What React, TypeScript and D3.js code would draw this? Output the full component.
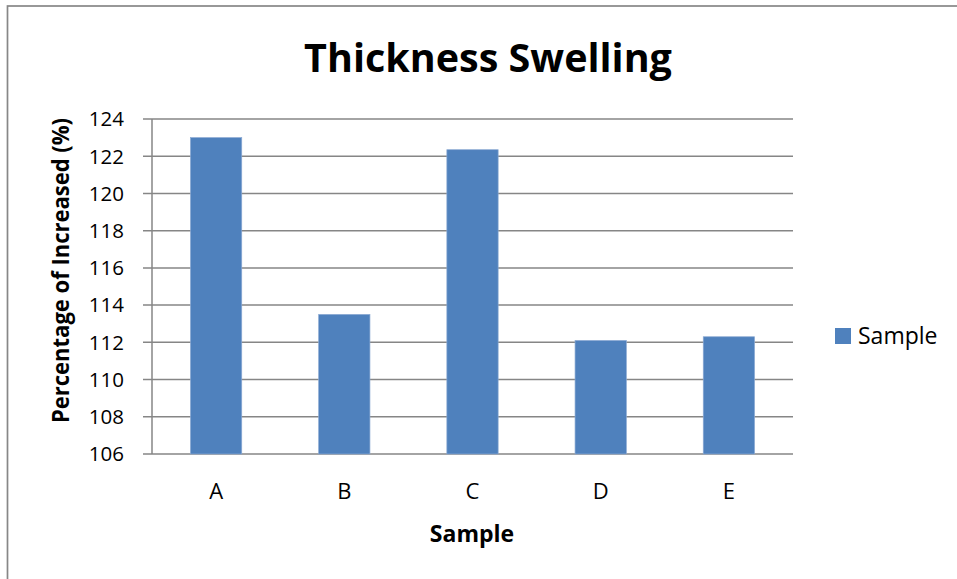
import React from "react";
import * as d3 from "d3";

const categories = ["A", "B", "C", "D", "E"];
const values = [123.0, 113.5, 122.35, 112.1, 112.3];
const yTicks = [106, 108, 110, 112, 114, 116, 118, 120, 122, 124];
const seriesName = "Sample";
const title = "Thickness Swelling";
const xTitle = "Sample";
const yTitle = "Percentage of Increased (%)";

const W = 957;
const H = 579;
const plot = { left: 152, right: 793, top: 119, bottom: 454 };
const FONT = "'Open Sans', 'DejaVu Sans', sans-serif";
const BAR = "#4F81BD";
const GRID = "#868686";

export default function App() {
  const x = d3
    .scaleBand<string>()
    .domain(categories)
    .range([plot.left, plot.right])
    .paddingInner(0.6)
    .paddingOuter(0.3);
  const y = d3.scaleLinear().domain([106, 124]).range([plot.bottom, plot.top]);

  return (
    <svg
      width={W}
      height={H}
      style={{ position: "absolute", left: 0, top: 0, background: "#fff" }}
      fontFamily={FONT}
    >
      <rect x={0} y={0} width={W} height={H} fill="#fff" />
      <rect x={7.5} y={6} width={W + 20} height={H + 20} fill="none" stroke="#878787" strokeWidth={1.7} />
      <text x={488} y={72} textAnchor="middle" fontSize={39.5} fontWeight="bold" fill="#000">
        {title}
      </text>
      {yTicks.map((t) => (
        <g key={t}>
          <line x1={143} x2={plot.right} y1={y(t)} y2={y(t)} stroke={GRID} strokeWidth={1.5} />
          <text x={124} y={y(t)} dy="0.36em" textAnchor="end" fontSize={20.5} fill="#000">
            {t}
          </text>
        </g>
      ))}
      <line x1={plot.left} x2={plot.left} y1={plot.top} y2={plot.bottom} stroke={GRID} strokeWidth={1.5} />
      {categories.map((c, i) => (
        <g key={c}>
          <rect
            x={x(c)}
            y={y(values[i])}
            width={x.bandwidth()}
            height={plot.bottom - y(values[i])}
            fill={BAR}
            stroke="#8aa9d3"
            strokeWidth={0.7}
          />
          <text x={(x(c) as number) + x.bandwidth() / 2} y={499} textAnchor="middle" fontSize={22} fill="#000">
            {c}
          </text>
        </g>
      ))}
      <text x={472} y={542} textAnchor="middle" fontSize={23} fontWeight="bold" fill="#000">
        {xTitle}
      </text>
      <text
        transform={`translate(69, 270.5) rotate(-90)`}
        textAnchor="middle"
        fontSize={24}
        fontWeight="bold"
        fill="#000"
        textLength={305}
        lengthAdjust="spacingAndGlyphs"
      >
        {yTitle}
      </text>
      <rect x={835} y={328} width={16} height={16} fill={BAR} />
      <text x={858} y={344} fontSize={23} fill="#000">
        {seriesName}
      </text>
    </svg>
  );
}
